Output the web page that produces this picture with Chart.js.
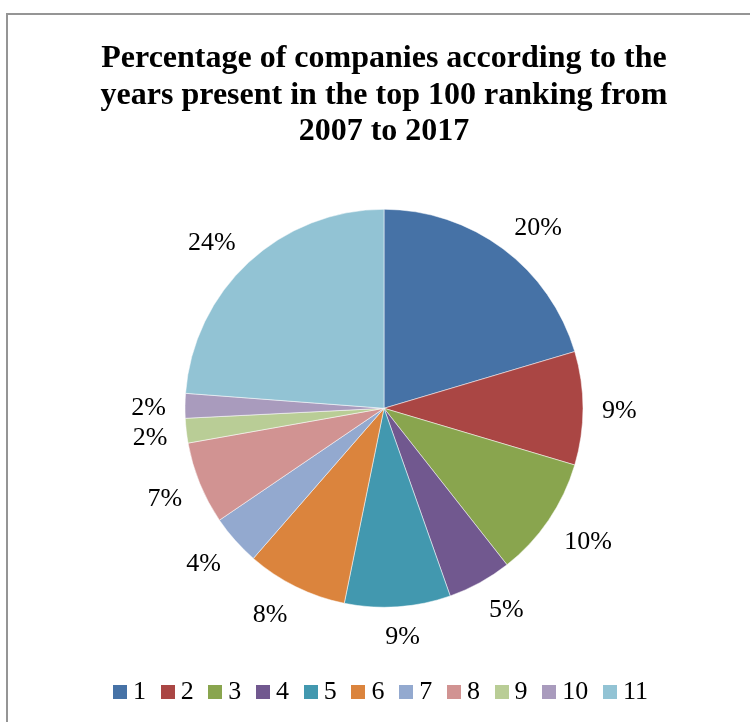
<!DOCTYPE html>
<html>
<head>
<meta charset="utf-8">
<script src="https://cdn.jsdelivr.net/npm/chart.js@4.4.1/dist/chart.umd.min.js"></script>
<style>
  html, body { margin: 0; padding: 0; background: #fff; overflow: hidden; }
  #frame {
    position: absolute; left: 6px; top: 13px;
    width: 800px; height: 800px;
    border-left: 2px solid #959595; border-top: 2px solid #959595;
  }
  #wrap { position: absolute; left: 0; top: 0; width: 750px; height: 722px; }
</style>
</head>
<body>
<div id="frame"></div>
<div id="wrap"><canvas id="pieChart" width="750" height="722"></canvas></div>
<script>
// Years present in the ranking (1..11) and share of companies for each
var years = ["1", "2", "3", "4", "5", "6", "7", "8", "9", "10", "11"];
var shares = [20.4, 9.2, 9.8, 5.2, 8.6, 8.2, 4.1, 6.7, 2.0, 2.0, 23.8];
var sliceColors = ["#4672A6", "#AA4644", "#89A54E", "#71588F", "#4298AF", "#DB843D",
                   "#93A9CF", "#D19392", "#B9CD96", "#A99BBD", "#92C3D4"];
var titleLines = ["Percentage of companies according to the",
                  "years present in the top 100 ranking from",
                  "2007 to 2017"];

var serif = "'Liberation Serif', 'Times New Roman', serif";

// small square swatch used as the legend marker
function swatch(color) {
  var c = document.createElement("canvas");
  c.width = 14;
  c.height = 14;
  var g = c.getContext("2d");
  g.fillStyle = color;
  g.fillRect(0, 0, 14, 14);
  return c;
}

// percent labels just outside each slice
var outsideLabels = {
  id: "outsideLabels",
  afterDatasetsDraw: function (chart) {
    var ctx = chart.ctx;
    var meta = chart.getDatasetMeta(0);
    var data = chart.data.datasets[0].data;
    var total = data.reduce(function (a, b) { return a + b; }, 0);
    var clamp = function (v) { return Math.max(-1, Math.min(1, v)); };
    ctx.save();
    ctx.font = "26px " + serif;
    ctx.fillStyle = "#000";
    ctx.textAlign = "center";
    ctx.textBaseline = "middle";
    meta.data.forEach(function (arc, i) {
      var p = arc.getProps(["x", "y", "startAngle", "endAngle", "outerRadius"], true);
      var mid = (p.startAngle + p.endAngle) / 2;
      var c = Math.cos(mid), s = Math.sin(mid);
      var text = Math.round(data[i] / total * 100) + "%";
      var hw = ctx.measureText(text).width / 2;
      var hh = 8;
      var r = p.outerRadius + 19;
      var tx = p.x + c * r + hw * clamp(3 * c);
      var ty = p.y + s * r + hh * clamp(2 * s) + 3;
      ctx.fillText(text, tx, ty);
    });
    ctx.restore();
  }
};

var ctx = document.getElementById("pieChart").getContext("2d");
var chart = new Chart(ctx, {
  type: "pie",
  data: {
    labels: years,
    datasets: [{
      data: shares,
      backgroundColor: sliceColors,
      borderColor: "rgba(255,255,255,0.5)",
      borderWidth: 1
    }]
  },
  options: {
    responsive: false,
    animation: false,
    radius: 199,
    layout: { padding: { left: 18, right: 0, top: 0, bottom: 7 } },
    plugins: {
      title: {
        display: true,
        text: titleLines,
        color: "#000",
        font: { family: serif, size: 32, weight: "bold", lineHeight: 1.13 },
        padding: { top: 41, bottom: 9.8 }
      },
      legend: {
        position: "bottom",
        labels: {
          color: "#000",
          font: { family: serif, size: 26 },
          usePointStyle: true,
          pointStyleWidth: 0.01,
          boxHeight: 14,
          padding: 21.7,
          generateLabels: function (chart) {
            var items = Chart.overrides.pie.plugins.legend.labels.generateLabels(chart);
            items.forEach(function (it, i) {
              it.lineWidth = 0;
              it.pointStyle = swatch(sliceColors[i]);
            });
            return items;
          }
        }
      },
      tooltip: { enabled: false }
    }
  },
  plugins: [outsideLabels]
});
</script>
</body>
</html>
